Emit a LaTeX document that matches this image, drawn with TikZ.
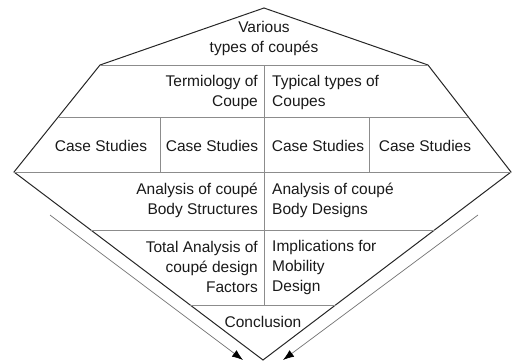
\documentclass[tikz,border=0pt]{standalone}
\usepackage{fontspec}
\setmainfont{Liberation Sans}
\usetikzlibrary{arrows.meta}

\begin{document}
\begin{tikzpicture}[x=1pt, y=-1pt,
  outline/.style={draw=black!85, line width=1pt, line join=miter},
  grid/.style={draw=black!45, line width=0.9pt},
  flowarrow/.style={draw=black!55, line width=0.7pt, -{Latex[length=11pt, width=8pt, color=black]}},
  txt/.style={inner sep=0pt, font=\fontsize{15.5}{20}\selectfont, text=black!90},
  rtxt/.style={txt, align=right, anchor=east},
  ltxt/.style={txt, align=left, anchor=west}]
    \useasboundingbox (0,0) rectangle (512,362);

    % Outline
    \coordinate (top) at (264,8);
    \coordinate (ls) at (100,65);
    \coordinate (rs) at (428,65);
    \coordinate (lw) at (14,172);
    \coordinate (rw) at (511,172);
    \coordinate (bot) at (263,360);
    \draw [outline] (ls) -- (top) -- (rs) -- (rw) -- (bot) -- (lw) -- cycle;

    % Rows
    \draw [grid] (ls) -- (rs);
    \draw [grid] (58.2,117) -- (468.3,117);
    \draw [grid] (lw) -- (rw);
    \draw [grid] (90.8,230) -- (434.5,230);
    \draw [grid] (190.2,305) -- (335.6,305);

    % Columns
    \draw [grid] (264,65) -- (264,305);
    \foreach \x in {160, 369} {
      \draw [grid] (\x,117) -- (\x,172);
    }

    % Labels
    \node [txt, align=center] (types) at (264,38) {Various\\types of coup\'es};
    \node [rtxt] (term) at (258,92) {Termiology of\\Coupe};
    \node [ltxt] (typical) at (272,92) {Typical types of\\Coupes};
    \foreach \x [count=\i] in {101, 212, 318, 425} {
      \node [txt] (case\i) at (\x,146) {Case Studies};
    }
    \node [rtxt] (struct) at (258,200) {Analysis of coup\'e\\Body Structures};
    \node [ltxt] (design) at (272,200) {Analysis of coup\'e\\Body Designs};
    \node [rtxt] (total) at (258,267) {Total Analysis of\\coup\'e design\\Factors};
    \node [ltxt] (impl) at (272,267) {Implications for\\Mobility\\Design};
    \node [txt] (concl) at (263,322) {Conclusion};

    % Flow arrows
    \coordinate (la) at (50,215);
    \coordinate (lt) at (243,360);
    \coordinate (ra) at (478,215);
    \coordinate (rt) at (283,360);
    \draw [flowarrow] (la) -- (lt);
    \draw [flowarrow] (ra) -- (rt);
  \end{tikzpicture}
\end{document}
